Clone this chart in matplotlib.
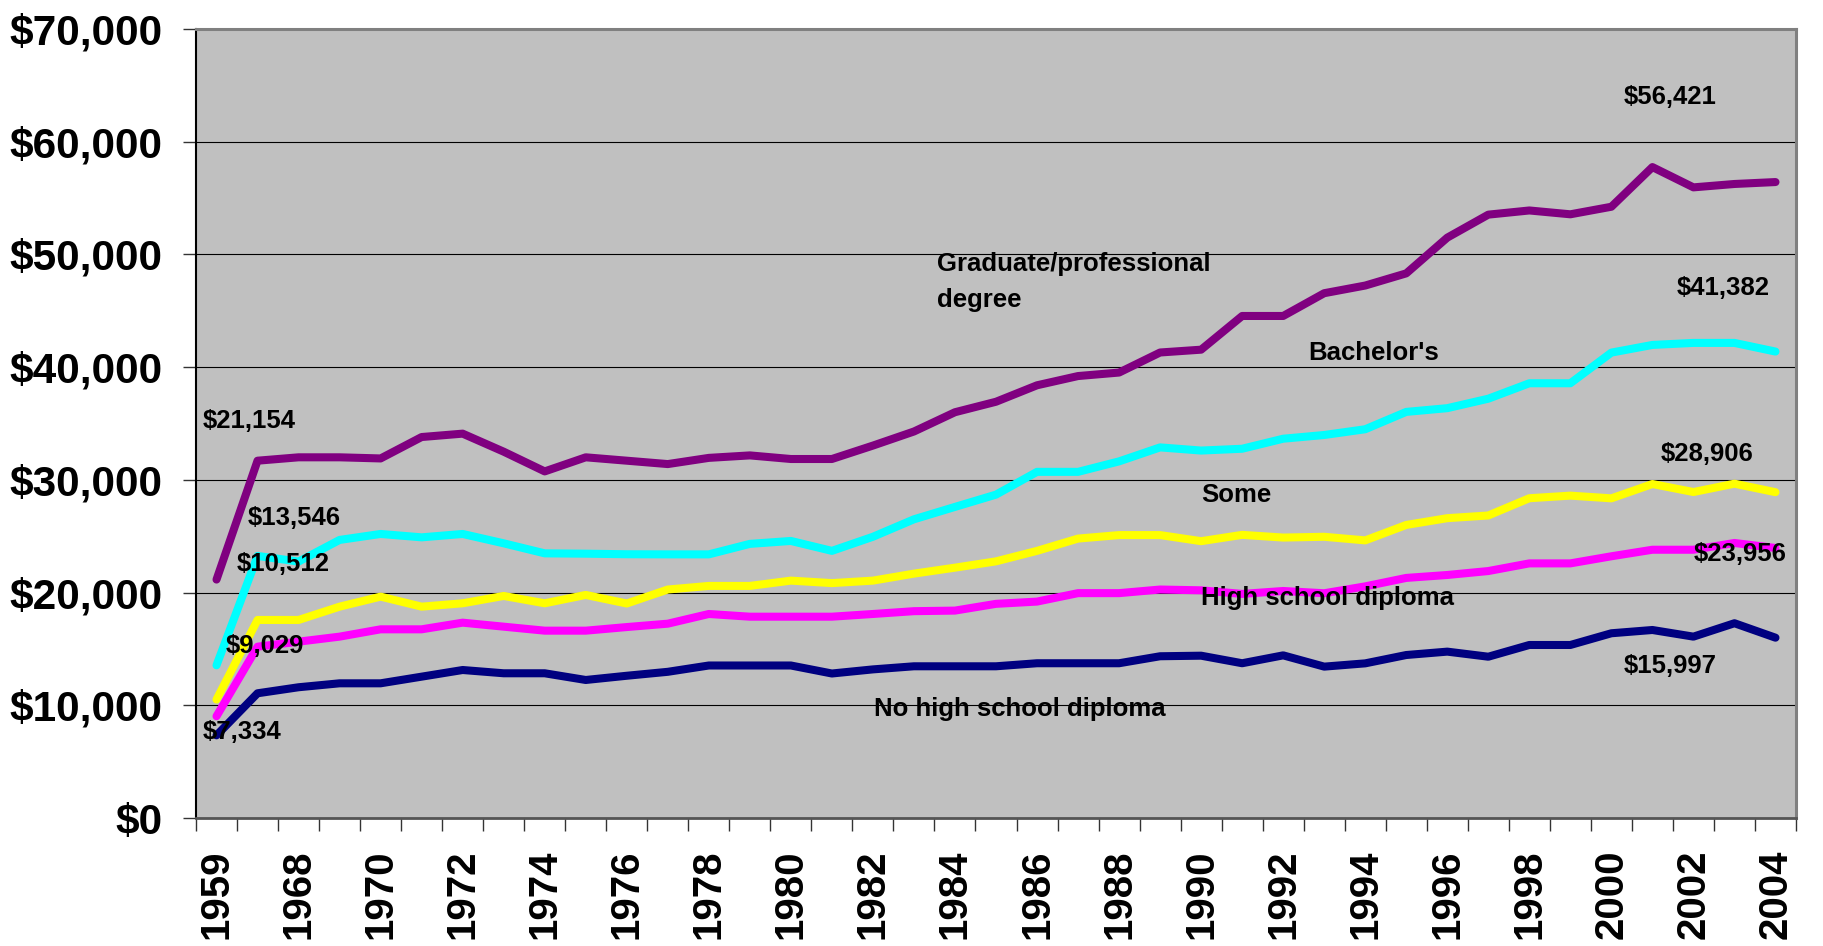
import matplotlib
matplotlib.use('Agg')
import matplotlib.pyplot as plt
import numpy as np

plt.rcParams['font.family'] = ['Liberation Sans', 'DejaVu Sans']

BG    = '#C0C0C0'
FS    = 30.5
LBL   = dict(fontsize=18.5, fontweight='bold', color='black', va='center', ha='left')

# ── data ──────────────────────────────────────────────────────────────────────
years = ['1959', '1967', '1968', '1969', '1970', '1971', '1972', '1973', '1974',
         '1975', '1976', '1977', '1978', '1979', '1980', '1981', '1982', '1983',
         '1984', '1985', '1986', '1987', '1988', '1989', '1990', '1991', '1992',
         '1993', '1994', '1995', '1996', '1997', '1998', '1999', '2000', '2001',
         '2002', '2003', '2004']

graduate = [21154, 31700, 32000, 32000, 31900, 33800, 34100, 32500, 30750, 32000,
            31700, 31400, 31950, 32170, 31850, 31850, 33040, 34290, 36000, 36930,
            38390, 39210, 39520, 41300, 41550, 44540, 44540, 46560, 47240, 48320,
            51490, 53530, 53900, 53560, 54230, 57750, 55950, 56250, 56421]
bachelor = [13546, 23250, 22750, 24670, 25200, 24900, 25200, 24370, 23480, 23450,
            23400, 23390, 23390, 24320, 24580, 23700, 24950, 26500, 27600, 28690,
            30710, 30710, 31640, 32880, 32600, 32760, 33650, 33980, 34490, 36030,
            36360, 37200, 38570, 38570, 41290, 41970, 42150, 42150, 41382]
some     = [10512, 17570, 17570, 18750, 19640, 18750, 19050, 19700, 19050, 19790,
            19030, 20270, 20590, 20590, 21060, 20840, 21060, 21680, 22210, 22770,
            23700, 24790, 25100, 25100, 24560, 25120, 24880, 24950, 24630, 26000,
            26600, 26840, 28370, 28600, 28360, 29630, 28920, 29660, 28906]
hs       = [9029, 15200, 15645, 16090, 16740, 16740, 17330, 16975, 16620, 16620,
            16940, 17240, 18100, 17860, 17860, 17860, 18100, 18350, 18400, 19000,
            19200, 19950, 19950, 20270, 20200, 19880, 20140, 19940, 20550, 21300,
            21560, 21910, 22590, 22590, 23220, 23800, 23800, 24400, 23956]
no_hs    = [7334, 11065, 11600, 11950, 11950, 12540, 13130, 12840, 12840, 12245,
            12620, 12970, 13530, 13530, 13530, 12820, 13185, 13460, 13460, 13460,
            13730, 13730, 13730, 14350, 14400, 13730, 14430, 13430, 13720, 14460,
            14760, 14310, 15350, 15350, 16390, 16680, 16090, 17280, 15997]

series = [(graduate, '#800080'), (bachelor, '#00FFFF'), (some, '#FFFF00'),
          (hs, '#FF00FF'), (no_hs, '#000080')]

# ── figure ────────────────────────────────────────────────────────────────────
fig = plt.figure(figsize=(18.24, 9.46), dpi=100)
ax = fig.add_axes([196 / 1824, 1 - 818 / 946, 1600 / 1824, 789 / 946])
ax.set_facecolor(BG)

x = np.arange(len(years))
for vals, col in series:
    ax.plot(x, vals, color=col, lw=5.8, solid_capstyle='round',
            solid_joinstyle='round', zorder=3)

ax.set_xlim(-0.5, len(years) - 0.5)
ax.set_ylim(0, 70000)

ax.set_yticks(np.arange(0, 70001, 10000))
ax.set_yticklabels(['${:,}'.format(v) for v in range(0, 70001, 10000)],
                   fontsize=FS, fontweight='bold')
ax.grid(axis='y', color='black', lw=0.8, zorder=1)
ax.set_axisbelow(True)

ax.set_xticks(x[::2])
ax.set_xticklabels(years[::2], rotation=90, fontsize=29, fontweight='bold')
ax.set_xticks(np.arange(-0.5, len(years), 1), minor=True)
ax.tick_params(axis='x', which='major', length=0, pad=23)
ax.tick_params(axis='x', which='minor', length=9.4, width=1.0, color='#333333')
ax.tick_params(axis='y', length=9.4, width=1.0, color='#333333', pad=15)

ax.spines['left'].set_color('black')
ax.spines['left'].set_linewidth(1.5)
ax.spines['bottom'].set_color('#555555')
ax.spines['bottom'].set_linewidth(2)
for s in ('top', 'right'):
    ax.spines[s].set_color('#808080')
    ax.spines[s].set_linewidth(2.2)

# ── value labels ──────────────────────────────────────────────────────────────
ax.text(-0.34, 35250, '$21,154', **LBL)
ax.text(0.77, 26660, '$13,546', **LBL)
ax.text(0.48, 22540, '$10,512', **LBL)
ax.text(0.23, 15260, '$9,029', **LBL)
ax.text(-0.34, 7590, '$7,334', **LBL)
ax.text(34.3, 63930, '$56,421', **LBL)
ax.text(35.6, 47030, '$41,382', **LBL)
ax.text(35.2, 32300, '$28,906', **LBL)
ax.text(36.0, 23430, '$23,956', **LBL)
ax.text(34.3, 13490, '$15,997', **LBL)

# ── series labels ─────────────────────────────────────────────────────────────
ax.text(17.56, 49160, 'Graduate/professional', **LBL)
ax.text(17.56, 45960, 'degree', **LBL)
ax.text(26.6, 41290, "Bachelor's", **LBL)
ax.text(24.0, 28660, 'Some', **LBL)
ax.text(24.0, 19520, 'High school diploma', **LBL)
ax.text(16.02, 9670, 'No high school diploma', **LBL)

fig.savefig('out.png', dpi=100, facecolor='white')
